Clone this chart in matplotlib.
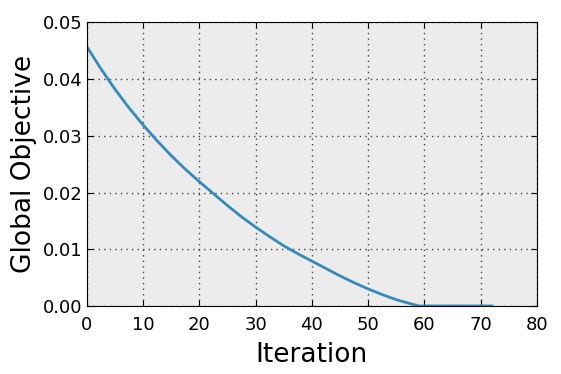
import numpy as np
import matplotlib
matplotlib.use("Agg")
import matplotlib.pyplot as plt

# values
iteration = [0, 2.5, 5, 7.5, 10, 12.5, 15, 17.5, 20, 22.5, 25, 27.5, 30, 32.5,
             35, 37.5, 40, 42.5, 45, 47.5, 50, 52.5, 55, 57.5, 59, 65, 72]
objective = [0.0457, 0.0418, 0.0382, 0.0349, 0.0319, 0.0291, 0.0265, 0.0241,
             0.0219, 0.0198, 0.0177, 0.0157, 0.0139, 0.0122, 0.0106, 0.0092,
             0.0079, 0.0066, 0.0053, 0.0041, 0.0030, 0.0020, 0.0011, 0.0004,
             0.0, 0.0, 0.0]

xticks = [0, 10, 20, 30, 40, 50, 60, 70, 80]
yticks = [0.00, 0.01, 0.02, 0.03, 0.04, 0.05]

fig = plt.figure(figsize=(5.61, 3.74), dpi=100)
ax = fig.add_axes([0.155, 0.182, 0.802, 0.758])
ax.set_facecolor("#ececec")

ax.plot(iteration, objective, color="#348ABD", lw=2, solid_joinstyle="round")

ax.set_xlim(0, 80)
ax.set_ylim(0, 0.05)
ax.set_xticks(xticks)
ax.set_yticks(yticks)
ax.set_yticklabels(["%.2f" % v for v in yticks])
ax.tick_params(direction="in", length=4, top=True, right=True, labelsize=13)
ax.tick_params(axis="x", pad=7)
ax.tick_params(axis="y", pad=3)
ax.grid(True, color="#444444", linestyle=(0, (1, 3)), linewidth=1)
ax.set_axisbelow(True)

ax.set_xlabel("Iteration", fontsize=19, labelpad=6)
ax.set_ylabel("Global Objective", fontsize=19, labelpad=4)

fig.savefig("out.png", dpi=100)
